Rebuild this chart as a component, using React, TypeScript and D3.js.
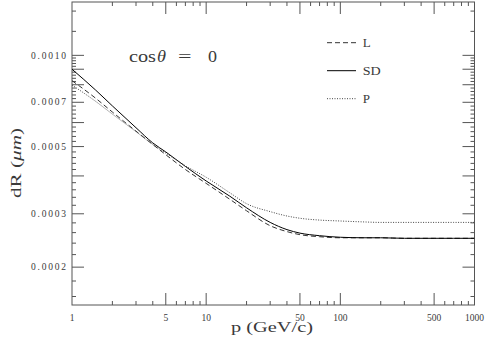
import React from "react";
import * as d3 from "d3";

const momenta = [1, 1.5, 2, 3, 4, 5, 7, 10, 15, 20, 30, 40, 50, 70, 100, 150, 200, 300, 500, 700, 1000];
const dRL = [0.000825, 0.000722, 0.00065, 0.000562, 0.000508, 0.00047, 0.00042, 0.000378, 0.000335, 0.000307, 0.000274, 0.000262, 0.000256, 0.000252, 0.00025, 0.00025, 0.00025, 0.000249, 0.000249, 0.000249, 0.000249];
const dRSD = [0.0009, 0.000768, 0.000681, 0.000577, 0.000514, 0.00048, 0.00043, 0.000385, 0.000343, 0.000314, 0.000281, 0.000266, 0.000259, 0.000254, 0.000251, 0.00025, 0.00025, 0.000249, 0.000249, 0.000249, 0.000249];
const dRP = [0.000798, 0.000705, 0.00064, 0.00056, 0.000508, 0.000476, 0.000432, 0.000396, 0.000352, 0.000324, 0.000305, 0.000295, 0.00029, 0.000286, 0.000284, 0.000282, 0.000281, 0.000281, 0.000281, 0.000281, 0.000281];

const xTickLabels = [1, 5, 10, 50, 100, 500, 1000];
const xMajorTicks = [5, 10, 50, 100, 500];
const yTickLabels = [0.0002, 0.0003, 0.0005, 0.0007, 0.001];

const seriesNames = ["L", "SD", "P"];

const W = 488, H = 346;
const left = 72, right = 474.5, top = 2, bottom = 305;
const FONT = "'Liberation Serif', 'DejaVu Serif', serif";
const TXT = "#3a3a3a";

export default function App() {
  const x = d3.scaleLog().domain([1, 1000]).range([left, right]);
  const y = d3.scaleLog().domain([0.00015, 0.0015]).range([bottom, top]);

  const line = d3
    .line<number>()
    .x((_, i) => x(momenta[i]))
    .y((d) => y(d))
    .curve(d3.curveMonotoneX);

  const xMinor: number[] = [];
  for (const dec of [1, 10, 100]) {
    for (let k = 2; k <= 9; k++) {
      const v = k * dec;
      if (!xMajorTicks.includes(v)) xMinor.push(v);
    }
  }
  const yLong: number[] = [];
  const yShort: number[] = [];
  for (let k = 16; k < 100; k += 2) {
    if (k % 10 === 0) yLong.push(k * 1e-5);
    else yShort.push(k * 1e-5);
  }
  yLong.push(100e-5);
  yShort.push(120e-5, 140e-5);

  const LT = 12, ST = 4;
  const axisColor = "#555";
  const styles = [
    { dash: "5,3", color: "#333", width: 1 },
    { dash: "", color: "#000", width: 1 },
    { dash: "1,1.5", color: "#444", width: 1 },
  ];
  const data = [dRL, dRSD, dRP];
  const legendY = [42.7, 70.7, 98.7];

  return (
    <svg width={W} height={H} style={{ position: "absolute", left: 0, top: 0, background: "#fff" }}>
      <rect x={0} y={0} width={W} height={H} fill="#fff" />
      <rect x={left} y={top} width={right - left} height={bottom - top} fill="none" stroke={axisColor} strokeWidth={1} />
      {xMinor.map((v) => (
        <g key={"xm" + v}>
          <line x1={x(v)} x2={x(v)} y1={bottom} y2={bottom - ST} stroke={axisColor} />
          <line x1={x(v)} x2={x(v)} y1={top} y2={top + ST} stroke={axisColor} />
        </g>
      ))}
      {xMajorTicks.map((v) => (
        <g key={"xM" + v}>
          <line x1={x(v)} x2={x(v)} y1={bottom} y2={bottom - LT} stroke={axisColor} />
          <line x1={x(v)} x2={x(v)} y1={top} y2={top + LT} stroke={axisColor} />
        </g>
      ))}
      {xTickLabels.map((v) => (
        <text key={"xl" + v} x={x(v)} y={321} fontSize={9.5} fontFamily={FONT} textAnchor="middle" fill={TXT}>
          {v}
        </text>
      ))}
      {yShort.map((v) => (
        <g key={"ys" + v}>
          <line x1={left} x2={left + ST} y1={y(v)} y2={y(v)} stroke={axisColor} />
          <line x1={right} x2={right - ST} y1={y(v)} y2={y(v)} stroke={axisColor} />
        </g>
      ))}
      {yLong.map((v) => (
        <g key={"yl" + v}>
          <line x1={left} x2={left + LT} y1={y(v)} y2={y(v)} stroke={axisColor} />
          <line x1={right} x2={right - LT} y1={y(v)} y2={y(v)} stroke={axisColor} />
        </g>
      ))}
      {yTickLabels.map((v) => (
        <text key={"ylab" + v} x={31} y={y(v) + 3.2} fontSize={9.5} fontFamily={FONT} fill={TXT} textLength={35} lengthAdjust="spacing">
          {v.toFixed(4)}
        </text>
      ))}
      <clipPath id="plotclip">
        <rect x={left} y={top} width={right - left} height={bottom - top} />
      </clipPath>
      <g clipPath="url(#plotclip)">
        {data.map((s, i) => (
          <path key={"c" + i} d={line(s) || ""} fill="none" stroke={styles[i].color} strokeWidth={styles[i].width} strokeDasharray={styles[i].dash || undefined} />
        ))}
      </g>
      {seriesNames.map((n, i) => (
        <g key={"lg" + n}>
          <line x1={327} x2={356} y1={legendY[i]} y2={legendY[i]} stroke={styles[i].color} strokeWidth={styles[i].width} strokeDasharray={styles[i].dash || undefined} />
          <text x={362.7} y={legendY[i] + 4.6} fontSize={13} fontFamily={FONT} fill={TXT} textLength={n.length === 2 ? 18 : undefined} lengthAdjust="spacingAndGlyphs">
            {n}
          </text>
        </g>
      ))}
      <g fontFamily={FONT} fill={TXT} fontSize={16}>
        <text x={129} y={61.7} textLength={27} lengthAdjust="spacingAndGlyphs">cos</text>
        <text x={157} y={61.7} fontStyle="italic" textLength={9} lengthAdjust="spacingAndGlyphs">θ</text>
        <text x={178} y={61.7} textLength={13.5} lengthAdjust="spacingAndGlyphs">=</text>
        <text x={208} y={61.7} textLength={9} lengthAdjust="spacingAndGlyphs">0</text>
      </g>
      <text x={231} y={332} fontSize={14} fontFamily={FONT} fill={TXT} textLength={82} lengthAdjust="spacingAndGlyphs">
        p (GeV/c)
      </text>
      <text transform={`translate(21,163) rotate(-90)`} fontSize={14} fontFamily={FONT} fill={TXT} textAnchor="middle" textLength={70} lengthAdjust="spacingAndGlyphs">
        dR (<tspan fontStyle="italic">μm</tspan>)
      </text>
    </svg>
  );
}
